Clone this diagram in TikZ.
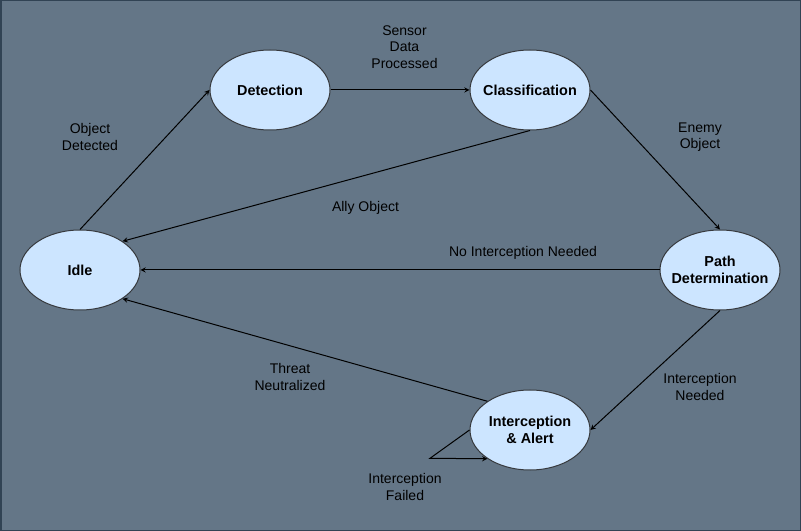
\documentclass[tikz,border=0pt]{standalone}
\usepackage{fontspec}
\setmainfont{Liberation Sans}
\usetikzlibrary{shapes.geometric}
\definecolor{bgslate}{HTML}{647687}
\definecolor{frameslate}{HTML}{314354}
\definecolor{statefill}{HTML}{CCE5FF}
\definecolor{stateline}{HTML}{36393D}
\begin{document}
\begin{tikzpicture}[
    x=0.75pt, y=-0.75pt,
    state/.style={ellipse, draw=stateline, line width=0.75pt, fill=statefill, minimum width=90pt, minimum height=60pt, inner xsep=-10pt, inner ysep=0pt, align=center, font=\fontsize{10.8}{12.6}\selectfont\bfseries},
    arrow/.style={->, >=stealth, line width=0.75pt},
    edgetext/.style={align=center, font=\fontsize{10.5}{12.4}\selectfont}
]

% Canvas
\useasboundingbox (0,0) rectangle (801,531);
\draw[fill=bgslate, draw=frameslate, line width=1.5pt] (0.5,0.5) rectangle (800.5,530.5);

% States
\node[state] (idle) at (80,270) {Idle};
\node[state] (detect) at (270,90) {Detection};
\node[state] (classify) at (530,90) {Classification};
\node[state] (pathdet) at (720,270) {Path\\Determination};
\node[state] (intercept) at (530,430) {Interception\\\& Alert};

% Transitions
\draw[arrow] (idle.north) -- (detect.west);
\draw[arrow] (detect.east) -- (classify.west);
\draw[arrow] (classify.south) -- (idle.34);
\draw[arrow] (classify.east) -- (pathdet.north);
\draw[arrow] (pathdet.west) -- (idle.east);
\draw[arrow] (pathdet.south) -- (intercept.east);
\draw[arrow] (intercept.146) -- (idle.-34);
\coordinate (failbend) at (430,458.3);
\draw[arrow] (intercept.west) -- (failbend) -- (intercept.214);

% Transition labels
\node[edgetext] (objdet) at (90,137) {Object\\Detected};
\node[edgetext] (sensor) at (404.5,47) {Sensor\\Data\\Processed};
\node[edgetext] (ally) at (365.5,207.5) {Ally Object};
\node[edgetext] (enemy) at (700,137) {Enemy\\Object};
\node[edgetext] (nointer) at (523,252.5) {No Interception Needed};
\node[edgetext] (interneed) at (700,387) {Interception\\Needed};
\node[edgetext] (threat) at (290,377) {Threat\\Neutralized};
\node[edgetext] (failed) at (405,487) {Interception\\Failed};

\end{tikzpicture}
\end{document}
